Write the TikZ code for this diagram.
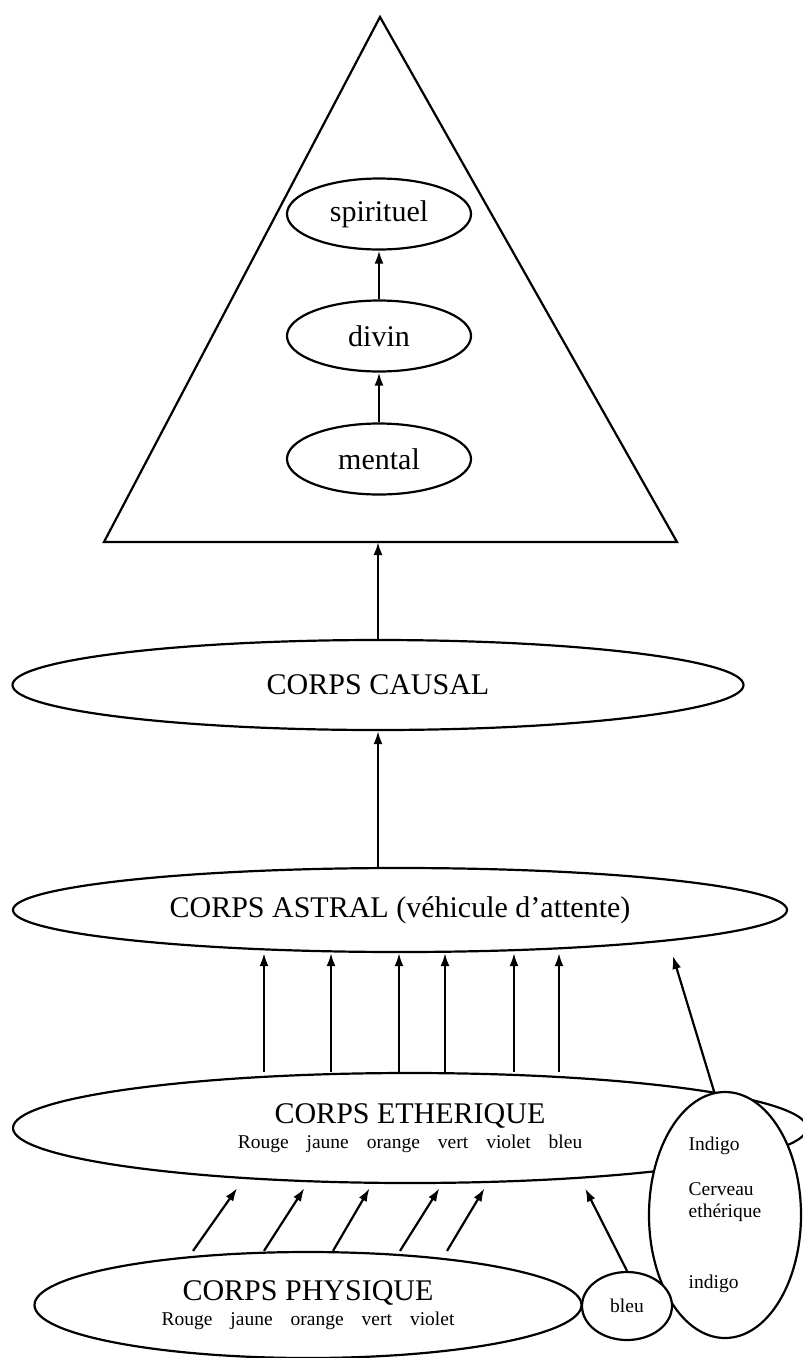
\documentclass[tikz,border=0pt]{standalone}
\usepackage{fontspec}
\setmainfont{Liberation Serif}
\usetikzlibrary{shapes.geometric,arrows.meta}
\newcommand{\bigtxt}{\fontsize{30}{36}\selectfont}
\newcommand{\smalltxt}{\fontsize{19.5}{22}\selectfont}
\newcommand{\gap}{\hspace{18pt}}

\begin{document}
\begin{tikzpicture}[x=1pt,y=-1pt,line width=2.2pt,
  corps/.style={draw,ellipse,fill=white,inner sep=0pt,font=\bigtxt,align=center},
  plan/.style={corps,minimum width=184pt,minimum height=71pt},
  arr/.style={-{Latex[length=13pt,width=9pt]}}]
\useasboundingbox (0,0) rectangle (803,1358);
\draw (104,542) -- (380,17) -- (677,542) -- cycle;
\coordinate (base) at (378,542);
\node[plan] (spirituel) at (379,214) {spirituel};
\node[plan] (divin) at (379,336) {divin};
\node[plan] (mental) at (379,459) {mental};
\draw[arr] (mental) -- (divin);
\draw[arr] (divin) -- (spirituel);

\node[corps,minimum width=731pt,minimum height=90pt] (causal) at (378,685) {CORPS CAUSAL};
\node[corps,minimum width=774pt,minimum height=84pt] (astral) at (400,910) {CORPS ASTRAL (véhicule d’attente)};
\draw[arr] (causal) -- (base);
\draw[arr] (astral.north -| causal.south) -- (causal.south);

\node[corps,minimum width=794pt,minimum height=110pt] (etherique) at (410,1128)
  {CORPS ETHERIQUE\\[-11pt]{\smalltxt Rouge\gap jaune\gap orange\gap vert\gap violet\gap bleu}};
\node[corps,font=\smalltxt,align=left,minimum width=152pt,minimum height=246pt] (cerveau) at (725,1215)
  {Indigo\\[23pt]Cerveau\\ethérique\\[49pt]indigo};
\node[corps,minimum width=547pt,minimum height=106pt] (physique) at (308,1305)
  {CORPS PHYSIQUE\\[-11pt]{\smalltxt Rouge\gap jaune\gap orange\gap vert\gap violet}};
\node[corps,font=\smalltxt,minimum width=90pt,minimum height=68pt] (bleu) at (627,1306) {bleu};

\foreach \x in {264,331,399,445,514,559}
  \draw[arr] (\x,0 |- etherique.north) -- (\x,0 |- astral.south);
\draw[arr,shorten >=3pt] (cerveau.95) -- (672,0 |- astral.south);
\foreach \a/\b in {193/240,264/307,333/372,400/442,447/487}
  \draw[arr,shorten >=5pt] (\a,0 |- physique.north) -- (\b,0 |- etherique.south);
\draw[arr,shorten >=5pt] (bleu.north) -- (583,0 |- etherique.south);
\end{tikzpicture}
\end{document}
